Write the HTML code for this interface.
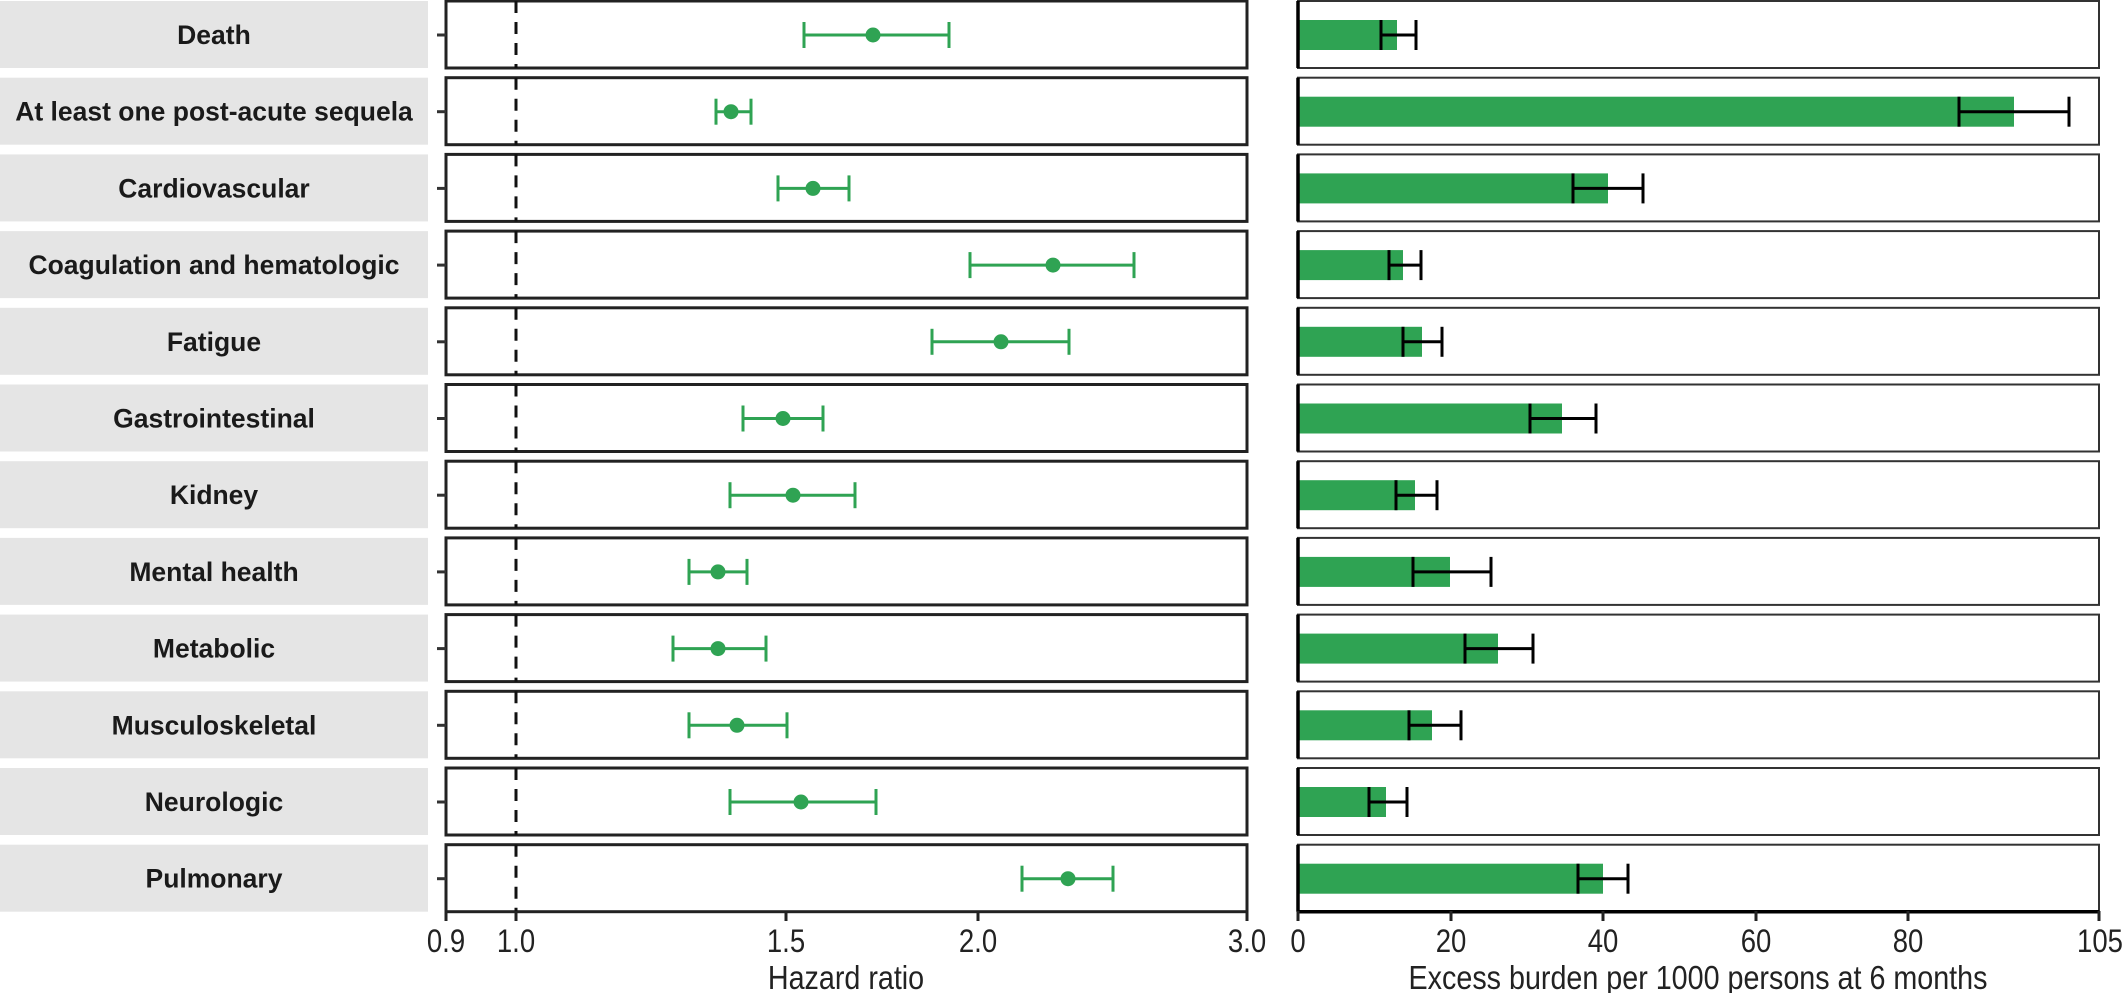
<!DOCTYPE html>
<html><head><meta charset="utf-8"><style>
html,body{margin:0;padding:0;background:#fff;}
svg{display:block;}
text{font-family:"Liberation Sans",Arial,sans-serif;}
</style></head><body>
<svg width="2123" height="993" viewBox="0 0 2123 993" xmlns="http://www.w3.org/2000/svg">
<g transform="translate(0,1)">
<rect x="0" y="0" width="428" height="67" fill="#e5e5e5"/>
<text x="214" y="43" font-size="26.5" font-weight="bold" text-anchor="middle" fill="#1a1a1a">Death</text>
<rect x="446" y="0" width="801" height="67" fill="#fff" stroke="#222" stroke-width="3"/>
<line x1="437" y1="34" x2="446" y2="34" stroke="#333" stroke-width="3"/>
<line x1="516" y1="0" x2="516" y2="67" stroke="#111" stroke-width="3" stroke-dasharray="12,9"/>
<g stroke="#2fa353" stroke-width="3"><line x1="804" y1="34" x2="949" y2="34"/><line x1="804" y1="21" x2="804" y2="47"/><line x1="949" y1="21" x2="949" y2="47"/></g><circle cx="873" cy="34" r="7.5" fill="#2fa353"/>
<rect x="1298" y="0" width="801" height="67" fill="#fff" stroke="#333" stroke-width="2"/>
<rect x="1298" y="19" width="99" height="30" fill="#2fa353"/>
<g stroke="#000" stroke-width="3"><line x1="1381" y1="34" x2="1416" y2="34"/><line x1="1381" y1="19" x2="1381" y2="49"/><line x1="1416" y1="19" x2="1416" y2="49"/></g>
<line x1="1298" y1="0" x2="1298" y2="67" stroke="#000" stroke-width="3.5"/>
</g>
<g transform="translate(0,77.7)">
<rect x="0" y="0" width="428" height="67" fill="#e5e5e5"/>
<text x="214" y="43" font-size="26.5" font-weight="bold" text-anchor="middle" fill="#1a1a1a">At least one post-acute sequela</text>
<rect x="446" y="0" width="801" height="67" fill="#fff" stroke="#222" stroke-width="3"/>
<line x1="437" y1="34" x2="446" y2="34" stroke="#333" stroke-width="3"/>
<line x1="516" y1="0" x2="516" y2="67" stroke="#111" stroke-width="3" stroke-dasharray="12,9"/>
<g stroke="#2fa353" stroke-width="3"><line x1="716" y1="34" x2="751" y2="34"/><line x1="716" y1="21" x2="716" y2="47"/><line x1="751" y1="21" x2="751" y2="47"/></g><circle cx="731" cy="34" r="7.5" fill="#2fa353"/>
<rect x="1298" y="0" width="801" height="67" fill="#fff" stroke="#333" stroke-width="2"/>
<rect x="1298" y="19" width="716" height="30" fill="#2fa353"/>
<g stroke="#000" stroke-width="3"><line x1="1959" y1="34" x2="2069" y2="34"/><line x1="1959" y1="19" x2="1959" y2="49"/><line x1="2069" y1="19" x2="2069" y2="49"/></g>
<line x1="1298" y1="0" x2="1298" y2="67" stroke="#000" stroke-width="3.5"/>
</g>
<g transform="translate(0,154.4)">
<rect x="0" y="0" width="428" height="67" fill="#e5e5e5"/>
<text x="214" y="43" font-size="26.5" font-weight="bold" text-anchor="middle" fill="#1a1a1a">Cardiovascular</text>
<rect x="446" y="0" width="801" height="67" fill="#fff" stroke="#222" stroke-width="3"/>
<line x1="437" y1="34" x2="446" y2="34" stroke="#333" stroke-width="3"/>
<line x1="516" y1="0" x2="516" y2="67" stroke="#111" stroke-width="3" stroke-dasharray="12,9"/>
<g stroke="#2fa353" stroke-width="3"><line x1="778" y1="34" x2="849" y2="34"/><line x1="778" y1="21" x2="778" y2="47"/><line x1="849" y1="21" x2="849" y2="47"/></g><circle cx="813" cy="34" r="7.5" fill="#2fa353"/>
<rect x="1298" y="0" width="801" height="67" fill="#fff" stroke="#333" stroke-width="2"/>
<rect x="1298" y="19" width="310" height="30" fill="#2fa353"/>
<g stroke="#000" stroke-width="3"><line x1="1573" y1="34" x2="1643" y2="34"/><line x1="1573" y1="19" x2="1573" y2="49"/><line x1="1643" y1="19" x2="1643" y2="49"/></g>
<line x1="1298" y1="0" x2="1298" y2="67" stroke="#000" stroke-width="3.5"/>
</g>
<g transform="translate(0,231.1)">
<rect x="0" y="0" width="428" height="67" fill="#e5e5e5"/>
<text x="214" y="43" font-size="26.5" font-weight="bold" text-anchor="middle" fill="#1a1a1a">Coagulation and hematologic</text>
<rect x="446" y="0" width="801" height="67" fill="#fff" stroke="#222" stroke-width="3"/>
<line x1="437" y1="34" x2="446" y2="34" stroke="#333" stroke-width="3"/>
<line x1="516" y1="0" x2="516" y2="67" stroke="#111" stroke-width="3" stroke-dasharray="12,9"/>
<g stroke="#2fa353" stroke-width="3"><line x1="970" y1="34" x2="1134" y2="34"/><line x1="970" y1="21" x2="970" y2="47"/><line x1="1134" y1="21" x2="1134" y2="47"/></g><circle cx="1053" cy="34" r="7.5" fill="#2fa353"/>
<rect x="1298" y="0" width="801" height="67" fill="#fff" stroke="#333" stroke-width="2"/>
<rect x="1298" y="19" width="105" height="30" fill="#2fa353"/>
<g stroke="#000" stroke-width="3"><line x1="1389" y1="34" x2="1421" y2="34"/><line x1="1389" y1="19" x2="1389" y2="49"/><line x1="1421" y1="19" x2="1421" y2="49"/></g>
<line x1="1298" y1="0" x2="1298" y2="67" stroke="#000" stroke-width="3.5"/>
</g>
<g transform="translate(0,307.8)">
<rect x="0" y="0" width="428" height="67" fill="#e5e5e5"/>
<text x="214" y="43" font-size="26.5" font-weight="bold" text-anchor="middle" fill="#1a1a1a">Fatigue</text>
<rect x="446" y="0" width="801" height="67" fill="#fff" stroke="#222" stroke-width="3"/>
<line x1="437" y1="34" x2="446" y2="34" stroke="#333" stroke-width="3"/>
<line x1="516" y1="0" x2="516" y2="67" stroke="#111" stroke-width="3" stroke-dasharray="12,9"/>
<g stroke="#2fa353" stroke-width="3"><line x1="932" y1="34" x2="1069" y2="34"/><line x1="932" y1="21" x2="932" y2="47"/><line x1="1069" y1="21" x2="1069" y2="47"/></g><circle cx="1001" cy="34" r="7.5" fill="#2fa353"/>
<rect x="1298" y="0" width="801" height="67" fill="#fff" stroke="#333" stroke-width="2"/>
<rect x="1298" y="19" width="124" height="30" fill="#2fa353"/>
<g stroke="#000" stroke-width="3"><line x1="1403" y1="34" x2="1442" y2="34"/><line x1="1403" y1="19" x2="1403" y2="49"/><line x1="1442" y1="19" x2="1442" y2="49"/></g>
<line x1="1298" y1="0" x2="1298" y2="67" stroke="#000" stroke-width="3.5"/>
</g>
<g transform="translate(0,384.5)">
<rect x="0" y="0" width="428" height="67" fill="#e5e5e5"/>
<text x="214" y="43" font-size="26.5" font-weight="bold" text-anchor="middle" fill="#1a1a1a">Gastrointestinal</text>
<rect x="446" y="0" width="801" height="67" fill="#fff" stroke="#222" stroke-width="3"/>
<line x1="437" y1="34" x2="446" y2="34" stroke="#333" stroke-width="3"/>
<line x1="516" y1="0" x2="516" y2="67" stroke="#111" stroke-width="3" stroke-dasharray="12,9"/>
<g stroke="#2fa353" stroke-width="3"><line x1="743" y1="34" x2="823" y2="34"/><line x1="743" y1="21" x2="743" y2="47"/><line x1="823" y1="21" x2="823" y2="47"/></g><circle cx="783" cy="34" r="7.5" fill="#2fa353"/>
<rect x="1298" y="0" width="801" height="67" fill="#fff" stroke="#333" stroke-width="2"/>
<rect x="1298" y="19" width="264" height="30" fill="#2fa353"/>
<g stroke="#000" stroke-width="3"><line x1="1530" y1="34" x2="1596" y2="34"/><line x1="1530" y1="19" x2="1530" y2="49"/><line x1="1596" y1="19" x2="1596" y2="49"/></g>
<line x1="1298" y1="0" x2="1298" y2="67" stroke="#000" stroke-width="3.5"/>
</g>
<g transform="translate(0,461.2)">
<rect x="0" y="0" width="428" height="67" fill="#e5e5e5"/>
<text x="214" y="43" font-size="26.5" font-weight="bold" text-anchor="middle" fill="#1a1a1a">Kidney</text>
<rect x="446" y="0" width="801" height="67" fill="#fff" stroke="#222" stroke-width="3"/>
<line x1="437" y1="34" x2="446" y2="34" stroke="#333" stroke-width="3"/>
<line x1="516" y1="0" x2="516" y2="67" stroke="#111" stroke-width="3" stroke-dasharray="12,9"/>
<g stroke="#2fa353" stroke-width="3"><line x1="730" y1="34" x2="855" y2="34"/><line x1="730" y1="21" x2="730" y2="47"/><line x1="855" y1="21" x2="855" y2="47"/></g><circle cx="793" cy="34" r="7.5" fill="#2fa353"/>
<rect x="1298" y="0" width="801" height="67" fill="#fff" stroke="#333" stroke-width="2"/>
<rect x="1298" y="19" width="117" height="30" fill="#2fa353"/>
<g stroke="#000" stroke-width="3"><line x1="1396" y1="34" x2="1437" y2="34"/><line x1="1396" y1="19" x2="1396" y2="49"/><line x1="1437" y1="19" x2="1437" y2="49"/></g>
<line x1="1298" y1="0" x2="1298" y2="67" stroke="#000" stroke-width="3.5"/>
</g>
<g transform="translate(0,537.9)">
<rect x="0" y="0" width="428" height="67" fill="#e5e5e5"/>
<text x="214" y="43" font-size="26.5" font-weight="bold" text-anchor="middle" fill="#1a1a1a">Mental health</text>
<rect x="446" y="0" width="801" height="67" fill="#fff" stroke="#222" stroke-width="3"/>
<line x1="437" y1="34" x2="446" y2="34" stroke="#333" stroke-width="3"/>
<line x1="516" y1="0" x2="516" y2="67" stroke="#111" stroke-width="3" stroke-dasharray="12,9"/>
<g stroke="#2fa353" stroke-width="3"><line x1="689" y1="34" x2="747" y2="34"/><line x1="689" y1="21" x2="689" y2="47"/><line x1="747" y1="21" x2="747" y2="47"/></g><circle cx="718" cy="34" r="7.5" fill="#2fa353"/>
<rect x="1298" y="0" width="801" height="67" fill="#fff" stroke="#333" stroke-width="2"/>
<rect x="1298" y="19" width="152" height="30" fill="#2fa353"/>
<g stroke="#000" stroke-width="3"><line x1="1413" y1="34" x2="1491" y2="34"/><line x1="1413" y1="19" x2="1413" y2="49"/><line x1="1491" y1="19" x2="1491" y2="49"/></g>
<line x1="1298" y1="0" x2="1298" y2="67" stroke="#000" stroke-width="3.5"/>
</g>
<g transform="translate(0,614.6)">
<rect x="0" y="0" width="428" height="67" fill="#e5e5e5"/>
<text x="214" y="43" font-size="26.5" font-weight="bold" text-anchor="middle" fill="#1a1a1a">Metabolic</text>
<rect x="446" y="0" width="801" height="67" fill="#fff" stroke="#222" stroke-width="3"/>
<line x1="437" y1="34" x2="446" y2="34" stroke="#333" stroke-width="3"/>
<line x1="516" y1="0" x2="516" y2="67" stroke="#111" stroke-width="3" stroke-dasharray="12,9"/>
<g stroke="#2fa353" stroke-width="3"><line x1="673" y1="34" x2="766" y2="34"/><line x1="673" y1="21" x2="673" y2="47"/><line x1="766" y1="21" x2="766" y2="47"/></g><circle cx="718" cy="34" r="7.5" fill="#2fa353"/>
<rect x="1298" y="0" width="801" height="67" fill="#fff" stroke="#333" stroke-width="2"/>
<rect x="1298" y="19" width="200" height="30" fill="#2fa353"/>
<g stroke="#000" stroke-width="3"><line x1="1465" y1="34" x2="1533" y2="34"/><line x1="1465" y1="19" x2="1465" y2="49"/><line x1="1533" y1="19" x2="1533" y2="49"/></g>
<line x1="1298" y1="0" x2="1298" y2="67" stroke="#000" stroke-width="3.5"/>
</g>
<g transform="translate(0,691.3)">
<rect x="0" y="0" width="428" height="67" fill="#e5e5e5"/>
<text x="214" y="43" font-size="26.5" font-weight="bold" text-anchor="middle" fill="#1a1a1a">Musculoskeletal</text>
<rect x="446" y="0" width="801" height="67" fill="#fff" stroke="#222" stroke-width="3"/>
<line x1="437" y1="34" x2="446" y2="34" stroke="#333" stroke-width="3"/>
<line x1="516" y1="0" x2="516" y2="67" stroke="#111" stroke-width="3" stroke-dasharray="12,9"/>
<g stroke="#2fa353" stroke-width="3"><line x1="689" y1="34" x2="787" y2="34"/><line x1="689" y1="21" x2="689" y2="47"/><line x1="787" y1="21" x2="787" y2="47"/></g><circle cx="737" cy="34" r="7.5" fill="#2fa353"/>
<rect x="1298" y="0" width="801" height="67" fill="#fff" stroke="#333" stroke-width="2"/>
<rect x="1298" y="19" width="134" height="30" fill="#2fa353"/>
<g stroke="#000" stroke-width="3"><line x1="1409" y1="34" x2="1461" y2="34"/><line x1="1409" y1="19" x2="1409" y2="49"/><line x1="1461" y1="19" x2="1461" y2="49"/></g>
<line x1="1298" y1="0" x2="1298" y2="67" stroke="#000" stroke-width="3.5"/>
</g>
<g transform="translate(0,768)">
<rect x="0" y="0" width="428" height="67" fill="#e5e5e5"/>
<text x="214" y="43" font-size="26.5" font-weight="bold" text-anchor="middle" fill="#1a1a1a">Neurologic</text>
<rect x="446" y="0" width="801" height="67" fill="#fff" stroke="#222" stroke-width="3"/>
<line x1="437" y1="34" x2="446" y2="34" stroke="#333" stroke-width="3"/>
<line x1="516" y1="0" x2="516" y2="67" stroke="#111" stroke-width="3" stroke-dasharray="12,9"/>
<g stroke="#2fa353" stroke-width="3"><line x1="730" y1="34" x2="876" y2="34"/><line x1="730" y1="21" x2="730" y2="47"/><line x1="876" y1="21" x2="876" y2="47"/></g><circle cx="801" cy="34" r="7.5" fill="#2fa353"/>
<rect x="1298" y="0" width="801" height="67" fill="#fff" stroke="#333" stroke-width="2"/>
<rect x="1298" y="19" width="88" height="30" fill="#2fa353"/>
<g stroke="#000" stroke-width="3"><line x1="1369" y1="34" x2="1407" y2="34"/><line x1="1369" y1="19" x2="1369" y2="49"/><line x1="1407" y1="19" x2="1407" y2="49"/></g>
<line x1="1298" y1="0" x2="1298" y2="67" stroke="#000" stroke-width="3.5"/>
</g>
<g transform="translate(0,844.7)">
<rect x="0" y="0" width="428" height="67" fill="#e5e5e5"/>
<text x="214" y="43" font-size="26.5" font-weight="bold" text-anchor="middle" fill="#1a1a1a">Pulmonary</text>
<rect x="446" y="0" width="801" height="67" fill="#fff" stroke="#222" stroke-width="3"/>
<line x1="437" y1="34" x2="446" y2="34" stroke="#333" stroke-width="3"/>
<line x1="516" y1="0" x2="516" y2="67" stroke="#111" stroke-width="3" stroke-dasharray="12,9"/>
<g stroke="#2fa353" stroke-width="3"><line x1="1022" y1="34" x2="1113" y2="34"/><line x1="1022" y1="21" x2="1022" y2="47"/><line x1="1113" y1="21" x2="1113" y2="47"/></g><circle cx="1068" cy="34" r="7.5" fill="#2fa353"/>
<rect x="1298" y="0" width="801" height="67" fill="#fff" stroke="#333" stroke-width="2"/>
<rect x="1298" y="19" width="305" height="30" fill="#2fa353"/>
<g stroke="#000" stroke-width="3"><line x1="1578" y1="34" x2="1628" y2="34"/><line x1="1578" y1="19" x2="1578" y2="49"/><line x1="1628" y1="19" x2="1628" y2="49"/></g>
<line x1="1298" y1="0" x2="1298" y2="67" stroke="#000" stroke-width="3.5"/>
<line x1="1298" y1="67" x2="2099" y2="67" stroke="#000" stroke-width="3.5"/>
</g>
<g stroke="#222" stroke-width="3">
<line x1="446" y1="911" x2="446" y2="921"/><line x1="516" y1="911" x2="516" y2="921"/><line x1="786" y1="911" x2="786" y2="921"/><line x1="978" y1="911" x2="978" y2="921"/><line x1="1247" y1="911" x2="1247" y2="921"/>
<line x1="1298" y1="911" x2="1298" y2="921"/><line x1="1451" y1="911" x2="1451" y2="921"/><line x1="1603" y1="911" x2="1603" y2="921"/><line x1="1756" y1="911" x2="1756" y2="921"/><line x1="1908" y1="911" x2="1908" y2="921"/><line x1="2099" y1="911" x2="2099" y2="921"/>
</g>
<g font-size="32" fill="#222" text-anchor="middle">
<text transform="translate(446,952) scale(0.86,1)">0.9</text><text transform="translate(516,952) scale(0.86,1)">1.0</text><text transform="translate(786,952) scale(0.86,1)">1.5</text><text transform="translate(978,952) scale(0.86,1)">2.0</text><text transform="translate(1247,952) scale(0.86,1)">3.0</text>
<text transform="translate(1298,952) scale(0.86,1)">0</text><text transform="translate(1451,952) scale(0.86,1)">20</text><text transform="translate(1603,952) scale(0.86,1)">40</text><text transform="translate(1756,952) scale(0.86,1)">60</text><text transform="translate(1908,952) scale(0.86,1)">80</text><text transform="translate(2100,952) scale(0.86,1)">105</text>
</g>
<g font-size="33" fill="#222" text-anchor="middle">
<text transform="translate(846,989) scale(0.87,1)">Hazard ratio</text>
<text transform="translate(1698,989) scale(0.87,1)">Excess burden per 1000 persons at 6 months</text>
</g>
</svg>
</body></html>
